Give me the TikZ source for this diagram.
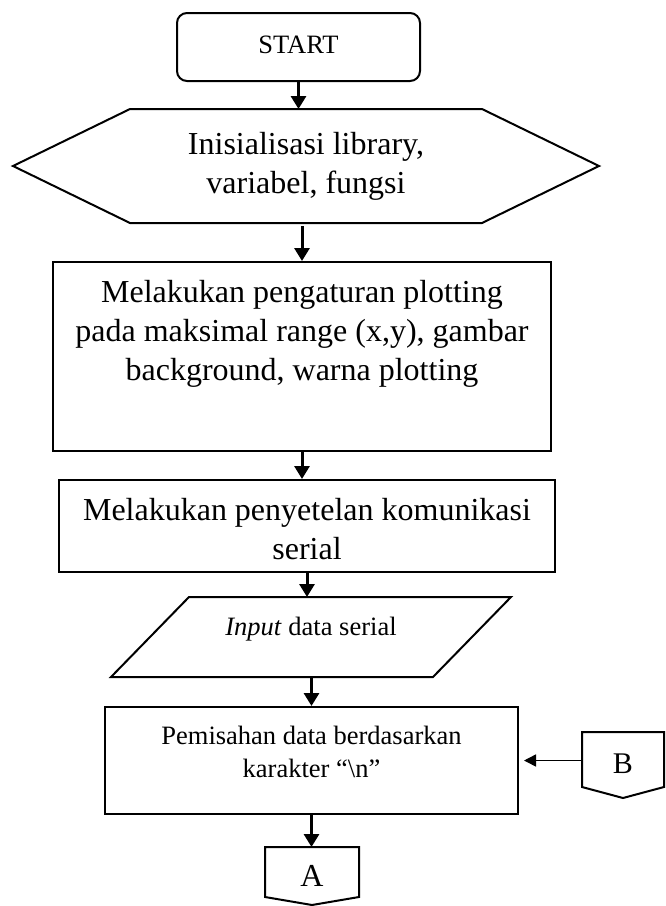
\documentclass[tikz,border=0pt]{standalone}
\usepackage{fontspec}
\setmainfont{Liberation Serif}
\usetikzlibrary{arrows.meta}
\begin{document}
\begin{tikzpicture}[x=1pt,y=-1pt,
  shp/.style={line width=2pt, inner sep=0pt, align=center},
  outline/.style={line width=2pt, line join=miter},
  big/.style={font=\fontsize{32}{39}\selectfont},
  small/.style={font=\fontsize{26.5}{33}\selectfont},
  flow/.style={line width=3pt, -{Triangle[width=15pt,length=13pt]}},
  thinflow/.style={line width=1.5pt, -{Triangle[width=12pt,length=12pt]}},
]
\useasboundingbox (0,0) rectangle (665,906);

% START
\node[shp, small, draw, rounded corners=10pt, minimum width=243pt, minimum height=68pt,
      text height=17.5pt, text depth=5.5pt] (start) at (298.5,47) {START};

% hexagon
\node[shp, big, minimum width=584pt, minimum height=112pt] (init) at (306,166)
  {Inisialisasi library,\\variabel, fungsi};
\draw[outline] (init.west) -- ([xshift=117pt]init.north west) -- ([xshift=-117pt]init.north east)
  -- (init.east) -- ([xshift=-117pt]init.south east) -- ([xshift=117pt]init.south west) -- cycle;

% plotting settings
\node[shp, big, draw, minimum width=498pt, minimum height=189pt] (set) at (302,356.5)
  {\parbox[c][189pt][t]{498pt}{\centering\rule{0pt}{40pt}Melakukan pengaturan plotting\\pada maksimal range (x,y), gambar\\background, warna plotting}};

% serial setup
\node[shp, big, draw, minimum width=496pt, minimum height=92pt] (serial) at (307,526)
  {\parbox[c][92pt][t]{496pt}{\centering\rule{0pt}{40pt}Melakukan penyetelan komunikasi\\serial}};

% input parallelogram
\node[shp, small, minimum width=398pt, minimum height=78pt,
      text height=18pt, text depth=20.6pt] (input) at (311,637) {\textit{Input} data serial};
\draw[outline] ([xshift=78pt]input.north west) -- (input.north east)
  -- ([xshift=-78pt]input.south east) -- (input.south west) -- cycle;

% split
\node[shp, small, draw, minimum width=413pt, minimum height=107pt] (split) at (311.5,760.5)
  {\parbox[c][107pt][t]{413pt}{\centering\rule{0pt}{37pt}Pemisahan data berdasarkan\\karakter “\textbackslash n”}};

% off-page connector B
\node[shp, font=\fontsize{30}{36}\selectfont, minimum width=80pt, minimum height=64pt,
      text height=20pt, text depth=4pt] (B) at (623,765) {B};
\draw[outline] (B.north west) -- (B.north east) -- ([yshift=11pt]B.south east)
  -- (B.south) -- ([yshift=11pt]B.south west) -- cycle;

% off-page connector A
\node[shp, font=\fontsize{32}{38}\selectfont, minimum width=92pt, minimum height=56pt,
      text height=21pt, text depth=0pt] (A) at (312,876) {A};
\draw[outline] (A.north west) -- (A.north east) -- ([yshift=8pt]A.south east)
  -- (A.south) -- ([yshift=8pt]A.south west) -- cycle;

% connectors
\draw[flow] (start.south) -- (start.south |- init.north);
\draw[flow] ([yshift=-3pt]set.north |- init.south) -- (set.north);
\draw[flow] (set.south) -- (set.south |- serial.north);
\draw[flow] (serial.south) -- (serial.south |- input.north);
\draw[flow] (split.north |- input.south) -- (split.north);
\draw[flow] (split.south) -- (split.south |- A.north);
\draw[thinflow] (B.west |- split.east) -- ([xshift=5pt]split.east);
\end{tikzpicture}
\end{document}
